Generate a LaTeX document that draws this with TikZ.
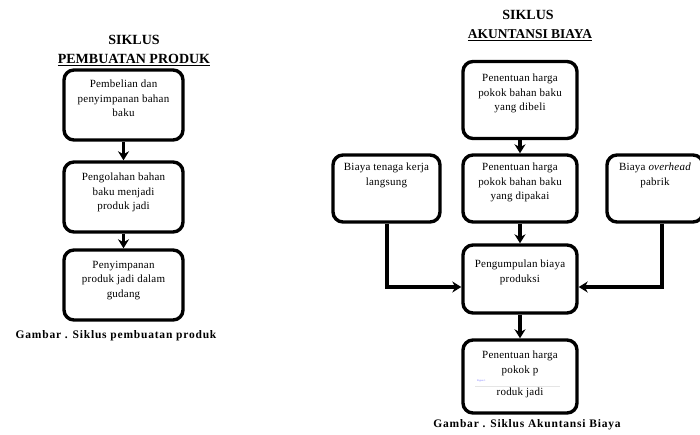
\documentclass[tikz,border=0pt]{standalone}
\usepackage{fontspec}
\setmainfont{Liberation Serif}
\usetikzlibrary{arrows.meta}
\tikzset{
  box/.style={draw, line width=3.4pt, rounded corners=10pt, inner sep=0pt},
  txt/.style={align=center, font=\fontsize{11}{14.5}\selectfont\addfontfeature{LetterSpace=2}, inner sep=0pt, anchor=north},
  ttl/.style={font=\fontsize{14}{16}\selectfont\bfseries, inner sep=0pt},
  captxt/.style={font=\fontsize{11.5}{13}\selectfont\bfseries\addfontfeature{LetterSpace=7}, inner sep=0pt},
  arr/.style={line width=3.4pt, -{Stealth[length=9pt,width=11pt]}},
  conn/.style={line width=3.8pt, -{Stealth[length=9pt,width=11pt]}},
}
\begin{document}
\begin{tikzpicture}[x=1pt,y=-1pt]
\useasboundingbox (0,0) rectangle (700,435);
% left titles
\node[ttl] (t1) at (134,40) {SIKLUS};
\node[ttl] (t2) at (134,60) {\underline{PEMBUATAN PRODUK}};
% left boxes
\node[box, minimum width=119pt, minimum height=70pt] (b1) at (123.5,105) {};
\node[txt] (b1t) at (123.5,80) {Pembelian dan\\penyimpanan bahan\\baku};
\node[box, minimum width=119pt, minimum height=70pt] (b2) at (123.5,197) {};
\node[txt] (b2t) at (123.5,173) {Pengolahan bahan\\baku menjadi\\produk jadi};
\node[box, minimum width=119pt, minimum height=70pt] (b3) at (123.5,285) {};
\node[txt] (b3t) at (123.5,261) {Penyimpanan\\produk jadi dalam\\gudang};
\draw[arr] (b1.south) -- (b2.north);
\draw[arr] (b2.south) -- (b3.north);
\node[captxt] (c1) at (116,336) {Gambar . Siklus pembuatan produk};
% right titles
\node[ttl] (t3) at (528,15) {SIKLUS};
\node[ttl, font=\fontsize{13.5}{16}\selectfont\bfseries] (t4) at (530,35) {\underline{AKUNTANSI BIAYA}};
% right boxes
\node[box, minimum width=114pt, minimum height=77pt] (r1) at (520,100) {};
\node[txt] (r1t) at (520,74) {Penentuan harga\\pokok bahan baku\\yang dibeli};
\node[box, minimum width=114pt, minimum height=67pt] (r2) at (520,188.5) {};
\node[txt] (r2t) at (520,163) {Penentuan harga\\pokok bahan baku\\yang dipakai};
\node[box, minimum width=107pt, minimum height=67pt] (l2) at (386.5,188.5) {};
\node[txt] (l2t) at (386.5,163) {Biaya tenaga kerja\\langsung};
\node[box, minimum width=96pt, minimum height=67pt] (p2) at (655,188.5) {};
\node[txt] (p2t) at (655,163) {Biaya \textit{overhead}\\pabrik};
\node[box, minimum width=114pt, minimum height=68pt] (r3) at (520,279) {};
\node[txt] (r3t) at (520,260) {Pengumpulan biaya\\produksi};
\node[box, minimum width=114pt, minimum height=73pt] (r4) at (520,376.5) {};
\node[txt] (r4t) at (520,351) {Penentuan harga\\pokok p};
\node[txt] (r4u) at (520,388) {roduk jadi};
\node[inner sep=0pt, font=\fontsize{2.5}{3}\selectfont, text=blue!60, anchor=west] (fig) at (477,381) {Figure 1};
\draw[black!10, line width=0.4pt] (475,386) -- (560,386);
\node[captxt] (c2) at (527,425) {Gambar . Siklus Akuntansi Biaya};
% connectors
\coordinate (lc) at (387,287);
\coordinate (rc) at (662,287);
\draw[arr] (r1.south) -- (r2.north);
\draw[arr] (r2.south) -- (r3.north);
\draw[arr] (r3.south) -- (r4.north);
\draw[conn] (l2.south -| lc) -- (lc) -- (lc -| r3.west);
\draw[conn] (p2.south -| rc) -- (rc) -- (rc -| r3.east);
\end{tikzpicture}
\end{document}
